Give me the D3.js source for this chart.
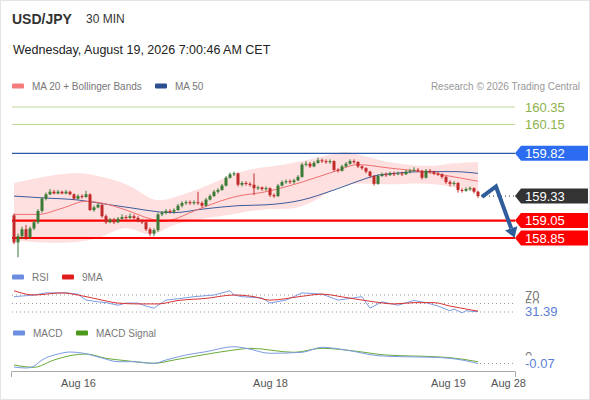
<!DOCTYPE html>
<html>
<head>
<meta charset="utf-8">
<script src="https://cdn.jsdelivr.net/npm/d3@7"></script>
<style>
body { margin: 0; background: #fff; }
svg { display: block; font-family: "Liberation Sans", Arial, sans-serif; }
</style>
</head>
<body>
<div id="chart"></div>
<script>
// 30 min candles, index 0 = first bar on the left
const opens = [
159.11,158.80,158.87,158.95,158.86,158.96,159.03,159.16,159.30,159.35,
159.38,159.36,159.38,159.36,159.38,159.35,159.30,159.33,159.32,159.35,
159.17,159.20,159.23,159.10,159.03,159.06,159.03,159.07,159.09,159.08,
159.10,159.08,159.04,159.03,158.95,158.90,158.94,159.12,159.14,159.16,
159.15,159.17,159.22,159.25,159.26,159.25,159.26,159.25,159.22,159.29,
159.33,159.38,159.40,159.45,159.54,159.58,159.59,159.46,159.48,159.47,
159.46,159.42,159.43,159.41,159.42,159.34,159.33,159.45,159.49,159.50,
159.49,159.51,159.55,159.69,159.70,159.67,159.71,159.74,159.73,159.72,
159.73,159.63,159.62,159.67,159.70,159.73,159.72,159.67,159.65,159.61,
159.56,159.47,159.56,159.58,159.57,159.59,159.58,159.59,159.58,159.61,
159.62,159.63,159.62,159.54,159.62,159.61,159.59,159.58,159.55,159.49,
159.47,159.48,159.40,159.39,159.41,159.42,159.38];
const highs = [
159.13,158.90,158.98,159.00,158.98,159.05,159.18,159.32,159.37,159.41,
159.40,159.40,159.39,159.40,159.39,159.36,159.35,159.35,159.39,159.36,
159.22,159.25,159.24,159.12,159.08,159.08,159.09,159.12,159.11,159.13,
159.12,159.10,159.06,159.05,158.97,158.96,159.14,159.16,159.18,159.18,
159.19,159.24,159.27,159.28,159.28,159.28,159.38,159.27,159.31,159.35,
159.40,159.42,159.47,159.56,159.60,159.61,159.60,159.50,159.50,159.49,
159.59,159.45,159.44,159.44,159.43,159.36,159.47,159.51,159.52,159.52,
159.53,159.57,159.71,159.73,159.72,159.73,159.77,159.76,159.75,159.75,
159.74,159.65,159.69,159.72,159.75,159.75,159.73,159.68,159.66,159.62,
159.57,159.58,159.60,159.60,159.61,159.61,159.61,159.61,159.63,159.64,
159.66,159.65,159.63,159.64,159.64,159.62,159.61,159.59,159.56,159.51,
159.50,159.49,159.42,159.43,159.44,159.43,159.39];
const lows = [
158.78,158.63,158.84,158.83,158.84,158.94,159.01,159.14,159.28,159.34,
159.35,159.35,159.35,159.35,159.34,159.29,159.29,159.30,159.31,159.16,
159.15,159.19,159.08,159.01,159.02,159.01,159.02,159.06,159.06,159.07,
159.06,159.03,159.01,158.93,158.87,158.87,158.92,159.10,159.12,159.13,
159.13,159.16,159.20,159.23,159.23,159.23,159.23,159.20,159.21,159.28,
159.32,159.36,159.39,159.44,159.53,159.56,159.44,159.44,159.45,159.44,
159.34,159.40,159.39,159.39,159.32,159.31,159.32,159.44,159.47,159.47,
159.47,159.50,159.54,159.67,159.65,159.66,159.70,159.71,159.70,159.70,
159.61,159.60,159.61,159.66,159.69,159.70,159.65,159.63,159.59,159.54,
159.45,159.46,159.55,159.55,159.56,159.56,159.57,159.56,159.57,159.59,
159.61,159.60,159.52,159.53,159.59,159.57,159.56,159.53,159.47,159.44,
159.45,159.37,159.37,159.38,159.39,159.36,159.31];
const closes = [
158.80,158.87,158.95,158.86,158.96,159.03,159.16,159.30,159.35,159.38,
159.36,159.38,159.36,159.38,159.35,159.30,159.33,159.32,159.35,159.17,
159.20,159.23,159.10,159.03,159.06,159.03,159.07,159.09,159.08,159.10,
159.08,159.04,159.03,158.95,158.90,158.94,159.12,159.14,159.16,159.15,
159.17,159.22,159.25,159.26,159.25,159.26,159.25,159.22,159.29,159.33,
159.38,159.40,159.45,159.54,159.58,159.59,159.46,159.48,159.47,159.46,
159.42,159.43,159.41,159.42,159.34,159.33,159.45,159.49,159.50,159.49,
159.51,159.55,159.69,159.70,159.67,159.71,159.74,159.73,159.72,159.73,
159.63,159.62,159.67,159.70,159.73,159.72,159.67,159.65,159.61,159.56,
159.47,159.56,159.58,159.57,159.59,159.58,159.59,159.58,159.61,159.62,
159.63,159.62,159.54,159.62,159.61,159.59,159.58,159.55,159.49,159.47,
159.48,159.40,159.39,159.41,159.42,159.38,159.33];

// indicators as [bar index, value]
const ma20 = [[0,159.12],[6,159.12],[12,159.19],[18,159.27],[22,159.25],[28,159.17],[34,159.07],[37,159.04],[41,159.08],[44,159.14],[49,159.23],[55,159.32],[63,159.38],[72,159.49],[80,159.61],[86,159.69],[94,159.65],[102,159.61],[110,159.55],[116,159.50]];
const ma50 = [[0,159.33],[7,159.31],[16,159.285],[24,159.23],[30,159.19],[36,159.15],[40,159.14],[47,159.18],[56,159.22],[63,159.23],[72,159.285],[80,159.40],[86,159.50],[90,159.56],[95,159.59],[103,159.61],[110,159.61],[116,159.59]];
const bbIdx   = [0,5,10,16,22,27,31,35,39,43,48,55,60,65,70,76,80,83,86,90,94,100,105,110,116];
const bbUpper = [159.48,159.53,159.57,159.61,159.55,159.49,159.40,159.26,159.30,159.36,159.44,159.59,159.65,159.67,159.71,159.77,159.82,159.84,159.81,159.76,159.71,159.68,159.67,159.71,159.72];
const bbLower = [158.83,158.80,158.79,158.80,158.85,158.99,158.93,158.86,159.00,159.03,159.08,159.12,159.17,159.19,159.17,159.29,159.42,159.46,159.48,159.47,159.46,159.48,159.47,159.43,159.38];

const rsi = [[0,66],[5,70],[8,75],[13,75],[16,72],[18,58],[21,54],[23,52],[26,46],[28,51],[31,51],[33,44],[35,39],[36,46],[38,58],[41,61],[45,66],[50,70],[54,80],[55,70],[57,66],[62,63],[64,51],[68,58],[72,75],[77,72],[81,58],[87,66],[89,39],[92,54],[96,46],[100,57],[103,52],[106,44],[109,33],[110,37],[112,28],[113,33],[115,31],[116,31.39]];
const rsiMa = [[0,80],[5,70],[12,75],[16,70],[22,58],[26,51],[31,49],[36,49],[41,57],[48,62],[55,70],[60,66],[64,58],[72,67],[77,72],[83,64],[90,54],[95,49],[100,52],[105,52],[109,44],[113,37],[116,32]];
const rsiLevels = [70, 50, 30];
const macd = [[0,-0.105],[3,-0.115],[5,-0.095],[7,-0.035],[11,0.025],[14,0.045],[17,0.035],[22,-0.015],[26,-0.052],[30,-0.052],[35,-0.068],[38,-0.035],[43,0.015],[48,0.048],[55,0.098],[58,0.082],[64,0.032],[72,0.042],[77,0.092],[83,0.065],[91,0.008],[97,-0.002],[105,-0.008],[112,-0.035],[116,-0.07]];
const macdSignal = [[0,-0.085],[5,-0.108],[10,-0.035],[15,0.015],[18,0.025],[23,-0.018],[28,-0.042],[35,-0.068],[40,-0.035],[47,0.015],[55,0.065],[59,0.082],[70,0.042],[77,0.082],[85,0.055],[93,0.015],[105,-0.002],[109,-0.012],[116,-0.052]];

const resistLevels = [160.35, 160.15];
const pivotLevel = 159.82;
const lastPrice = 159.33;
const supportLevels = [159.05, 158.85];
const lastRsi = 31.39, lastMacd = -0.07;
const forecast = [[117,159.32],[120.5,159.44],[124.3,158.96]];

const xTickIdx = [16, 64, 108.5, 123.5];
const xTickLabels = ["Aug 16", "Aug 18", "Aug 19", "Aug 28"];

const W = 590, H = 400;
const svg = d3.select("#chart").append("svg")
    .attr("width", W)
    .attr("height", H);

svg.append("rect")
    .attr("x", 0.5).attr("y", 0.5)
    .attr("width", W - 1).attr("height", H - 1)
    .attr("fill", "#fff")
    .attr("stroke", "#e4e4e4");

const x = d3.scaleLinear().domain([-0.75, 125.25]).range([11, 515]);
const y = d3.scaleLinear().domain([158.85, 160.35]).range([238, 107]);
const yRsi = d3.scaleLinear().domain([30, 70]).range([312, 295]);
const yMacd = d3.scaleLinear().domain([-0.07, 0]).range([363.5, 356.5]);

// header
svg.append("text").attr("x", 12).attr("y", 24)
    .attr("font-size", 14).attr("font-weight", "bold").attr("fill", "#333")
    .text("USD/JPY");
svg.append("text").attr("x", 86).attr("y", 23)
    .attr("font-size", 12).attr("fill", "#333")
    .text("30 MIN");
svg.append("text").attr("x", 13).attr("y", 54)
    .attr("font-size", 12.5).attr("fill", "#222")
    .text("Wednesday, August 19, 2026 7:00:46 AM CET");

function legend(items, yy) {
    items.forEach(it => {
        svg.append("rect").attr("x", it.x).attr("y", yy - 2.5)
            .attr("width", 12).attr("height", 5).attr("rx", 1)
            .attr("fill", it.color);
        svg.append("text").attr("x", it.x + 20).attr("y", yy + 3.5)
            .attr("font-size", 10).attr("fill", "#777")
            .text(it.label);
    });
}
legend([{x: 12, color: "#f47c7c", label: "MA 20 + Bollinger Bands"},
        {x: 155, color: "#2b4f91", label: "MA 50"}], 86);
svg.append("text").attr("x", 580).attr("y", 89.5)
    .attr("text-anchor", "end").attr("font-size", 10).attr("fill", "#999")
    .text("Research \u00a9 2026 Trading Central");

// bollinger band + moving averages
const band = d3.area()
    .x((d, i) => x(bbIdx[i]))
    .y0((d, i) => y(bbLower[i]))
    .y1((d, i) => y(bbUpper[i]))
    .curve(d3.curveBasis);
svg.append("path").datum(bbIdx)
    .attr("d", band)
    .attr("fill", "#ff0000")
    .attr("fill-opacity", 0.12);

const maLine = d3.line().x(d => x(d[0])).y(d => y(d[1])).curve(d3.curveMonotoneX);
svg.append("path").datum(ma50).attr("d", maLine)
    .attr("fill", "none").attr("stroke", "#3d5c9c").attr("stroke-width", 1);
svg.append("path").datum(ma20).attr("d", maLine)
    .attr("fill", "none").attr("stroke", "#f07070").attr("stroke-width", 1);

// horizontal levels
resistLevels.forEach(p => {
    svg.append("line").attr("x1", 12).attr("x2", 515)
        .attr("y1", y(p)).attr("y2", y(p))
        .attr("stroke", "#bcd896").attr("stroke-width", 1);
    svg.append("text").attr("x", 525).attr("y", y(p) + 4.5)
        .attr("font-size", 13).attr("fill", "#8cb24c")
        .text(p.toFixed(2));
});
svg.append("line").attr("x1", 12).attr("x2", 515)
    .attr("y1", y(pivotLevel)).attr("y2", y(pivotLevel))
    .attr("stroke", "#2d5aa6").attr("stroke-width", 1.2);
supportLevels.forEach(p => {
    svg.append("line").attr("x1", 12).attr("x2", 515)
        .attr("y1", y(p)).attr("y2", y(p))
        .attr("stroke", "#ff0000").attr("stroke-width", 2.2);
});
svg.append("line").attr("x1", x(116) + 3).attr("x2", 515)
    .attr("y1", y(lastPrice)).attr("y2", y(lastPrice))
    .attr("stroke", "#333").attr("stroke-dasharray", "1,3");

// candles
const candles = svg.append("g").selectAll("g")
    .data(d3.range(closes.length))
    .join("g");
const col = i => closes[i] >= opens[i] ? "#3b7a35" : "#c22a2a";
candles.append("line")
    .attr("x1", i => x(i)).attr("x2", i => x(i))
    .attr("y1", i => y(highs[i])).attr("y2", i => y(lows[i]))
    .attr("stroke", col).attr("stroke-width", 1);
candles.append("rect")
    .attr("x", i => x(i) - 1.5)
    .attr("width", 3)
    .attr("y", i => y(Math.max(opens[i], closes[i])))
    .attr("height", i => Math.max(1, Math.abs(y(opens[i]) - y(closes[i]))))
    .attr("fill", col);

// forecast arrow
const fpts = forecast.map(d => [x(d[0]), y(d[1])]);
svg.append("path")
    .attr("d", d3.line()(fpts))
    .attr("fill", "none").attr("stroke", "#2f5d9c")
    .attr("stroke-width", 4).attr("stroke-linejoin", "miter");
const a = fpts[1], b = fpts[2];
const len = Math.hypot(b[0] - a[0], b[1] - a[1]);
const ux = (b[0] - a[0]) / len, uy = (b[1] - a[1]) / len;
svg.append("path")
    .attr("d", d3.line()([
        [b[0] + ux * 10, b[1] + uy * 10],
        [b[0] - uy * 6.5, b[1] + ux * 6.5],
        [b[0] + uy * 6.5, b[1] - ux * 6.5]]) + "Z")
    .attr("fill", "#2f5d9c");

// price tags on the right
function tag(p, fill) {
    const yc = y(p);
    svg.append("path")
        .attr("d", `M515,${yc}L521,${yc - 7.5}H588V${yc + 7.5}H521Z`)
        .attr("fill", fill);
    svg.append("text").attr("x", 525).attr("y", yc + 4.5)
        .attr("font-size", 13).attr("fill", "#fff")
        .text(p.toFixed(2));
}
tag(pivotLevel, "#2b6cf0");
tag(lastPrice, "#333333");
supportLevels.forEach(p => tag(p, "#ff0000"));

// RSI panel
legend([{x: 12, color: "#6d8ee0", label: "RSI"},
        {x: 62, color: "#e01e1e", label: "9MA"}], 277);
rsiLevels.forEach(v => {
    svg.append("line").attr("x1", 12).attr("x2", 515)
        .attr("y1", yRsi(v)).attr("y2", yRsi(v))
        .attr("stroke", "#999").attr("stroke-dasharray", "1,3");
});
const rsiLine = d3.line().x(d => x(d[0])).y(d => yRsi(d[1]));
svg.append("path").datum(rsi).attr("d", rsiLine)
    .attr("fill", "none").attr("stroke", "#7e9ce2").attr("stroke-width", 1);
svg.append("path").datum(rsiMa).attr("d", rsiLine.curve(d3.curveMonotoneX))
    .attr("fill", "none").attr("stroke", "#d93535").attr("stroke-width", 1);
[70, 50].forEach(v => {
    svg.append("text").attr("x", 525).attr("y", yRsi(v) + 4.5)
        .attr("font-size", 13).attr("fill", "#777").text(v);
});
// the last-value tag sits on a white plate and hides most of the "50"
svg.append("rect").attr("x", 523).attr("y", yRsi(lastRsi) - 8)
    .attr("width", 40).attr("height", 14).attr("fill", "#fff");
svg.append("text").attr("x", 525).attr("y", yRsi(lastRsi) + 4.5)
    .attr("font-size", 13).attr("fill", "#5b7fd6").text(lastRsi.toFixed(2));

// MACD panel
legend([{x: 13, color: "#6d8ee0", label: "MACD"},
        {x: 76, color: "#4c9a1c", label: "MACD Signal"}], 333);
const macdLine = d3.line().x(d => x(d[0])).y(d => yMacd(d[1])).curve(d3.curveMonotoneX);
svg.append("path").datum(macdSignal).attr("d", macdLine)
    .attr("fill", "none").attr("stroke", "#6aab38").attr("stroke-width", 1);
svg.append("path").datum(macd).attr("d", macdLine)
    .attr("fill", "none").attr("stroke", "#7e9ce2").attr("stroke-width", 1);
svg.append("line").attr("x1", x(116) + 2).attr("x2", 515)
    .attr("y1", yMacd(lastMacd)).attr("y2", yMacd(lastMacd))
    .attr("stroke", "#999").attr("stroke-dasharray", "1,3");
svg.append("text").attr("x", 525).attr("y", yMacd(0) + 4.5)
    .attr("font-size", 13).attr("fill", "#777").text("0");
svg.append("rect").attr("x", 523).attr("y", yMacd(lastMacd) - 8)
    .attr("width", 40).attr("height", 14).attr("fill", "#fff");
svg.append("text").attr("x", 525).attr("y", yMacd(lastMacd) + 4.5)
    .attr("font-size", 13).attr("fill", "#5b7fd6").text(lastMacd.toFixed(2));

// time axis
const xAxis = svg.append("g")
    .attr("transform", "translate(0,371)")
    .call(d3.axisBottom(x)
        .tickValues(xTickIdx)
        .tickFormat((d, i) => xTickLabels[i])
        .tickSizeInner(0)
        .tickSizeOuter(6)
        .tickPadding(8));
xAxis.select(".domain").attr("stroke", "#aaa");
xAxis.selectAll("text")
    .attr("font-size", 11).attr("fill", "#555")
    .attr("font-family", "Liberation Sans, Arial, sans-serif");
</script>
</body>
</html>
